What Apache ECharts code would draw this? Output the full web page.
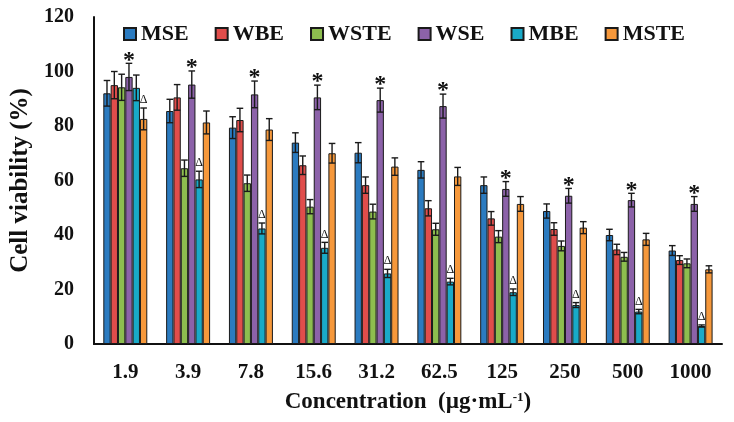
<!DOCTYPE html>
<html><head><meta charset="utf-8">
<script src="https://cdn.jsdelivr.net/npm/echarts@6/dist/echarts.min.js"></script>
<style>html,body{margin:0;padding:0;background:#fff}#c{width:734px;height:422px}</style>
</head><body><div id="c"></div>
<script>
var categories = ['1.9','3.9','7.8','15.6','31.2','62.5','125','250','500','1000'];
var seriesNames = ['MSE','WBE','WSTE','WSE','MBE','MSTE'];
var MSE      = [92, 85.5, 79.4, 73.9, 70.2, 63.9, 58.3, 48.8, 40, 34.3];
var MSE_err  = [4.7, 4.3, 4, 3.6, 3.7, 3, 3, 2.6, 2.1, 1.8];
var WBE      = [95, 90.5, 82.2, 65.6, 58.3, 49.8, 46.1, 42.2, 34.7, 30.8];
var WBE_err  = [5, 4.7, 4.3, 3.4, 3, 2.8, 2.5, 2.3, 1.9, 1.6];
var WSTE     = [94.2, 64.5, 59, 50.4, 48.6, 42.1, 39.4, 36, 32, 29.6];
var WSTE_err = [4.8, 3, 3, 2.6, 2.7, 2.2, 2.2, 1.8, 1.6, 1.6];
var WSE      = [98, 95.2, 91.6, 90.5, 89.5, 87.3, 56.9, 54.4, 52.8, 51.4];
var WSE_err  = [5, 5, 4.9, 4.5, 4.4, 4.4, 2.7, 2.7, 2.5, 2.7];
var MBE      = [94, 60.4, 42.4, 35.3, 25.9, 22.9, 19, 14.3, 11.9, 6.6];
var MBE_err  = [4.7, 3, 2, 2, 1.5, 1.2, 1.2, 0.9, 0.8, 0.4];
var MSTE     = [82.6, 81.3, 78.7, 70, 65.1, 61.5, 51.4, 42.7, 38.4, 27.4];
var MSTE_err = [4, 4.2, 4, 3.6, 3.2, 3.3, 2.7, 2.2, 2.2, 1.3];
// significance marks: '*' or 'Δ' per series per category
var MSE_mark  = ['','','','','','','','','',''];
var WBE_mark  = ['','','','','','','','','',''];
var WSTE_mark = ['','','','','','','','','',''];
var WSE_mark  = ['*','*','*','*','*','*','*','*','*','*'];
var MBE_mark  = ['','Δ','Δ','Δ','Δ','Δ','Δ','Δ','Δ','Δ'];
var MSTE_mark = ['Δ','','','','','','','','',''];
var yTicks = [0, 20, 40, 60, 80, 100, 120];

var values = [MSE, WBE, WSTE, WSE, MBE, MSTE];
var errs = [MSE_err, WBE_err, WSTE_err, WSE_err, MBE_err, MSTE_err];
var marks = [MSE_mark, WBE_mark, WSTE_mark, WSE_mark, MBE_mark, MSTE_mark];
var colors = ['#2B7BC0', '#E04D4B', '#8DBE4F', '#8C62A9', '#19AAC8', '#F6983B'];
var FONT = '"Liberation Serif", "Times New Roman", serif';
var nS = seriesNames.length;
var catGap = 0.3;

var series = [];
seriesNames.forEach(function (name, i) {
  series.push({
    name: name, type: 'bar', data: values[i],
    barGap: '0%', barCategoryGap: '30%',
    itemStyle: { color: colors[i], borderColor: '#1a1a1a', borderWidth: 1 },
    z: 2
  });
});
seriesNames.forEach(function (name, i) {
  var data = values[i].map(function (v, k) { return [k, v, errs[i][k]]; });
  series.push({
    type: 'custom', name: name + '_err', z: 5,
    data: data, encode: { x: 0, y: 1 },
    renderItem: function (params, api) {
      var k = api.value(0), v = api.value(1), e = api.value(2);
      var band = api.size([1, 0])[0];
      var bw = band * (1 - catGap) / nS;
      var off = -band * (1 - catGap) / 2 + (i + 0.5) * bw;
      var top = api.coord([k, v + e]);
      var bot = api.coord([k, v - e]);
      var x = top[0] + off;
      var hw = Math.max(3, bw * 0.45);
      var st = { stroke: '#1a1a1a', lineWidth: 1.4 };
      var children = [
        { type: 'line', shape: { x1: x, y1: top[1], x2: x, y2: bot[1] }, style: st },
        { type: 'line', shape: { x1: x - hw, y1: top[1], x2: x + hw, y2: top[1] }, style: st },
        { type: 'line', shape: { x1: x - hw, y1: bot[1], x2: x + hw, y2: bot[1] }, style: st }
      ];
      var m = marks[i][k];
      if (m === '*') {
        children.push({ type: 'text', style: { text: '*', x: x, y: top[1] + 9, align: 'center', verticalAlign: 'bottom', font: 'bold 24px ' + FONT, fill: '#111' } });
      } else if (m === 'Δ') {
        children.push({ type: 'text', style: { text: 'Δ', x: x, y: top[1] - 2, align: 'center', verticalAlign: 'bottom', font: '12px ' + FONT, fill: '#111' } });
      }
      return { type: 'group', children: children };
    }
  });
});

var chart = echarts.init(document.getElementById('c'), null, { renderer: 'canvas' });
chart.setOption({
  animation: false,
  backgroundColor: '#fff',
  grid: { left: 93, right: 12, top: 17, bottom: 78, containLabel: false },
  legend: {
    data: seriesNames, top: 18, left: 118, itemWidth: 12, itemHeight: 12, itemGap: 26,
    icon: 'rect',
    textStyle: { fontFamily: FONT, fontWeight: 'bold', fontSize: 22, color: '#111' }
  },
  xAxis: {
    type: 'category', data: categories,
    axisLine: { lineStyle: { color: '#111', width: 2 } },
    axisTick: { show: false },
    axisLabel: { margin: 18, fontFamily: FONT, fontWeight: 'bold', fontSize: 21, color: '#111' },
    name: '{a|Concentration  (µg·mL}{s|-1}{a|)}', nameLocation: 'middle', nameGap: 47,
    nameTextStyle: {
      rich: {
        a: { fontFamily: FONT, fontWeight: 'bold', fontSize: 23, color: '#111' },
        s: { fontFamily: FONT, fontWeight: 'bold', fontSize: 13, color: '#111', verticalAlign: 'top', padding: [0, 0, 10, 0] }
      }
    }
  },
  yAxis: {
    type: 'value', min: 0, max: 120, interval: 20,
    axisLine: { show: true, lineStyle: { color: '#111', width: 2 } },
    axisTick: { show: false },
    splitLine: { show: false },
    axisLabel: { margin: 20, fontFamily: FONT, fontWeight: 'bold', fontSize: 20, color: '#111',
      formatter: function (v) { return yTicks.indexOf(v) >= 0 ? String(v) : ''; } },
    name: 'Cell viability (%)', nameLocation: 'middle', nameGap: 57, nameRotate: 90,
    nameTextStyle: { fontFamily: FONT, fontWeight: 'bold', fontSize: 25, color: '#111' }
  },
  series: series
});
</script></body></html>
